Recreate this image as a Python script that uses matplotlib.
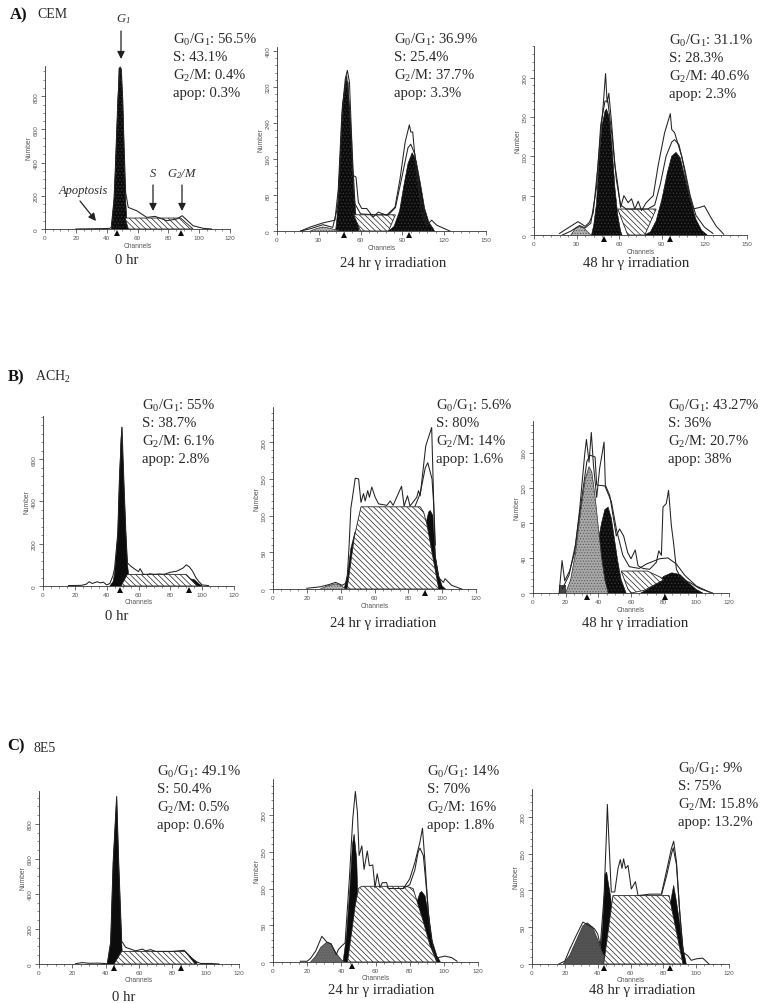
import matplotlib
matplotlib.use("Agg")
import matplotlib.pyplot as plt

W = 780
H = 1004

plt.rcParams['font.family'] = ['Liberation Serif', 'DejaVu Serif']
plt.rcParams['mathtext.fontset'] = 'custom'
plt.rcParams['mathtext.rm'] = 'Liberation Serif'
plt.rcParams['mathtext.it'] = 'Liberation Serif:italic'
plt.rcParams['mathtext.default'] = 'regular'
plt.rcParams['hatch.linewidth'] = 0.5

# each curve is kept as channel list + count list
# A) CEM 0 hr
a0_raw_x = [20, 40, 42, 43, 44.8, 45.5, 46.5, 47.3, 48.7, 49.5, 50.4, 51, 52.3, 54, 59.5, 66, 71.4, 79, 85.4, 89, 96, 102.7, 108]
a0_raw_y = [0, 3, 4, 10, 180, 330, 580, 780, 976, 960, 780, 580, 220, 130, 110, 70, 76, 50, 60, 80, 20, 4, 0]
a0_g1_x = [43, 44.8, 45.5, 46.5, 47.3, 48, 49.3, 50.4, 51, 51.7, 52.3, 53, 54]
a0_g1_y = [0, 180, 330, 580, 780, 970, 970, 780, 580, 350, 180, 70, 0]
a0_s_x = [52, 88, 96, 54]
a0_s_y = [66, 66, 0, 0]

# A) CEM 24 hr
a1_raw_x = [17, 24, 33, 41.6, 44, 46.5, 49, 50.5, 52, 53.6, 54.3, 56.7, 58.4, 60.8, 64.4, 69, 72.7, 78.7, 84.7, 88.3, 92, 95, 96, 97.4, 100, 103.8, 107.4, 111, 114.6, 124]
a1_raw_y = [0, 9, 18, 24, 94, 257, 338, 357, 331, 205, 124, 120, 64, 50, 50, 31, 42, 35, 53, 116, 198, 236, 220, 220, 131, 42, 13, 24, 13, 0]
a1_fit_x = [17, 24, 33, 40, 44, 47, 50, 53, 56, 60, 70, 80, 85, 90, 94, 96, 99, 103, 107, 112]
a1_fit_y = [0, 5, 14, 8, 60, 280, 345, 230, 60, 38, 36, 36, 52, 125, 185, 193, 170, 80, 25, 5]
a1_g1_x = [42, 43, 45, 47.6, 49.5, 51, 53, 55, 56.7, 59]
a1_g1_y = [0, 27, 146, 294, 335, 331, 220, 94, 35, 0]
a1_g2_x = [80, 84, 88, 91, 94, 97, 100, 103, 106, 109, 113]
a1_g2_y = [0, 10, 45, 100, 150, 174, 155, 105, 50, 20, 0]
a1_s_x = [55, 85, 80, 60]
a1_s_y = [36, 36, 0, 0]
a1_ap_x = [24, 28, 33, 38, 45]
a1_ap_y = [0, 5, 9, 6, 0]

# A) CEM 48 hr
a2_raw_x = [18, 24, 31, 36, 39, 41.7, 45, 48.7, 50.4, 51.5, 52.7, 54.6, 57, 58.6, 61, 63.3, 66.3, 68.7, 71, 73.4, 75.7, 79, 84, 87.4, 92, 96, 97, 99, 104, 108.5, 112, 116.7, 120, 124, 128.4, 133.6]
a2_raw_y = [2, 9, 17, 11, 16, 28, 88, 164, 205, 168, 180, 143, 88, 69, 35, 50, 41, 46, 33, 43, 31, 41, 50, 88, 130, 154, 134, 130, 100, 58, 33, 35, 37, 24, 11, 1]
a2_fit_x = [20, 26, 32, 36, 40, 44, 47, 50, 52, 55, 58, 61, 65, 80, 85, 89, 93, 97, 99, 102, 106, 110, 114, 120, 126]
a2_fit_y = [0, 5, 12, 9, 15, 60, 140, 170, 170, 125, 70, 38, 33, 33, 38, 65, 100, 118, 121, 115, 85, 50, 25, 10, 2]
a2_g1_x = [40.5, 42, 44, 46, 48, 50, 51, 53, 55, 57, 59, 61, 62]
a2_g1_y = [0, 12, 40, 100, 140, 157, 160, 150, 110, 60, 25, 5, 0]
a2_g2_x = [78, 82, 86, 90, 94, 97, 100, 103, 106, 110, 114, 118, 122]
a2_g2_y = [0, 4, 18, 45, 80, 100, 105, 98, 75, 45, 20, 6, 0]
a2_s_x = [59, 86, 78, 66]
a2_s_y = [33, 33, 0, 0]
a2_ap_x = [26, 29, 32, 35, 40]
a2_ap_y = [0, 8, 11, 9, 0]

# B) ACH2 0 hr
b0_raw_x = [16, 24, 27, 29, 31, 34, 36, 38, 40, 42, 44, 45, 47, 48, 49.6, 51, 52, 53, 55, 58, 60, 61, 63, 66, 67, 70, 73, 76, 80, 84, 88, 90, 92, 94, 96, 98, 100, 104]
b0_raw_y = [2, 3, 8, 20, 12, 20, 15, 18, 5, 12, 50, 85, 250, 500, 751, 450, 260, 110, 95, 78, 68, 82, 55, 55, 58, 55, 57, 55, 65, 70, 85, 100, 90, 70, 40, 20, 5, 2]
b0_g1_x = [42, 44, 45, 47, 48, 49, 49.6, 50, 51, 52, 53, 54, 55]
b0_g1_y = [0, 20, 60, 250, 500, 700, 751, 650, 450, 260, 110, 40, 0]
b0_g2_x = [88, 92, 95, 98, 100]
b0_g2_y = [0, 35, 30, 10, 0]
b0_s_x = [49, 53, 90, 97]
b0_s_y = [0, 55, 55, 0]

# B) ACH2 24 hr
b1_raw_x = [20, 28, 33, 37, 41, 43, 44, 45, 46, 47, 48.6, 50.6, 52, 53.5, 54.5, 56, 57, 58.4, 60.4, 62.4, 67.3, 69.3, 71, 76, 77.5, 79.5, 81, 85, 86, 87, 90.3, 93.8, 95, 95.8, 97.8, 100.7, 101.7, 105.6, 111.5]
b1_raw_y = [1, 3, 6, 9, 5, 8, 20, 60, 110, 125, 151, 150, 118, 130, 120, 134, 125, 139, 125, 116, 114, 120, 114, 140, 113, 127, 113, 125, 134, 127, 195, 220, 118, 45, 16, 9, 14, 5, 0]
b1_fit_x = [84, 87, 90, 91.5, 94, 95, 96]
b1_fit_y = [113, 130, 165, 172, 150, 115, 60]
b1_g1_x = [42, 44, 46, 48.5, 50, 50]
b1_g1_y = [0, 18, 55, 78, 60, 0]
b1_g2_x = [88, 90, 92, 93, 94.5, 95, 96, 98, 100, 102]
b1_g2_y = [0, 85, 105, 107, 100, 80, 45, 18, 4, 0]
b1_s_x = [43.7, 45, 48, 52, 87, 89, 91, 94, 98]
b1_s_y = [0, 20, 70, 112, 112, 105, 88, 50, 0]
b1_ap_x = [28, 32, 37, 40, 43]
b1_ap_y = [0, 4, 7, 5, 0]

# B) ACH2 48 hr
b2_raw_x = [16, 17.8, 19.4, 22.4, 25.5, 28.6, 31.6, 32.7, 34.3, 35.7, 37, 39, 40.8, 43.5, 44.3, 47, 49, 51, 53, 55.5, 58, 60, 62.6, 64.3, 67.3, 71.4, 75.5, 77, 78.6, 79.6, 81.6, 83, 84.7, 86, 87.8, 90.8, 96, 102, 110]
b2_raw_y = [0, 37, 14, 25, 46, 96, 157, 175, 149, 183, 146, 109, 142, 172, 123, 111, 88, 65, 73, 65, 46, 39, 49, 31, 28, 27, 35, 48, 43, 98, 102, 117, 77, 58, 27, 16, 12, 5, 0]
b2_fit_x = [18, 22, 26, 30, 33, 35, 38, 39, 44, 48, 51, 55, 59, 65, 69.4, 77.5, 82.6, 87.8, 93, 100, 108]
b2_fit_y = [5, 20, 55, 110, 150, 157, 155, 123, 122, 104, 73, 43, 30, 28, 33, 39, 40, 33, 20, 8, 1]
b2_g1_x = [40, 40, 42, 44, 46, 48, 50, 52, 54, 57]
b2_g1_y = [0, 60, 80, 95, 98, 85, 60, 35, 15, 0]
b2_g2_x = [66, 70, 75, 80, 85, 90, 95, 100, 104]
b2_g2_y = [0, 4, 10, 19, 23, 21, 12, 4, 0]
b2_s_x = [54, 70, 78, 80, 68, 60, 58]
b2_s_y = [25, 25, 18, 15, 3, 0, 5]
b2_ap_x = [20, 23, 26, 29, 32, 34.3, 36, 38, 40, 42, 44, 46]
b2_ap_y = [0, 15, 45, 90, 130, 144, 138, 110, 75, 40, 15, 0]
b2_debris_x = [16, 16, 20, 20]
b2_debris_y = [0, 9, 9, 0]

# C) 8E5 0 hr
c0_raw_x = [22, 26, 30, 35, 41, 43, 44.5, 46.6, 47.8, 49.6, 50, 52, 55, 58, 60, 62, 64, 67, 70, 80, 87, 89, 92, 95, 97, 103, 108]
c0_raw_y = [2, 8, 4, 5, 2, 124, 580, 956, 580, 124, 125, 95, 85, 75, 80, 85, 75, 82, 72, 72, 78, 60, 30, 10, 3, 3, 0]
c0_g1_x = [41, 43, 44.5, 46.6, 47.8, 49.6, 50, 49]
c0_g1_y = [0, 124, 580, 956, 580, 124, 60, 0]
c0_g2_x = [87, 92, 95, 94, 90]
c0_g2_y = [75, 32, 5, 0, 30]
c0_s_x = [45, 49.6, 87.7, 93.7]
c0_s_y = [0, 72, 72, 0]

# C) 8E5 24 hr
c1_raw_x = [16, 20, 22, 25, 28.6, 31.5, 34, 37, 38.3, 40.3, 42.2, 44.7, 46.7, 48.2, 49.4, 50.4, 52, 53.3, 55.2, 56.4, 58.4, 59.7, 61, 62.6, 64, 66.5, 67.5, 76.3, 80, 83, 86, 87.5, 89, 90.9, 93.8, 95.7, 96.7, 100.6, 104.5, 107.8]
c1_raw_y = [1, 1, 5, 15, 35, 27, 25, 10, 17, 22, 26, 113, 195, 232, 204, 145, 158, 126, 151, 131, 132, 101, 120, 101, 108, 108, 100, 100, 113, 135, 163, 182, 135, 67, 17, 1, 6, 8, 6, 1]
c1_fit_x = [76, 80, 83, 85, 86, 88, 90, 92]
c1_fit_y = [100, 105, 125, 150, 155, 145, 95, 40]
c1_g1_x = [41, 43, 45, 46.5, 47.5, 49, 50, 50]
c1_g1_y = [0, 35, 100, 160, 174, 140, 60, 0]
c1_g2_x = [82, 84, 86, 87, 89, 91, 93, 96, 98]
c1_g2_y = [0, 80, 94, 96, 90, 65, 30, 8, 0]
c1_s_x = [43.6, 46, 48, 50, 52, 78, 82, 84, 88, 92, 96]
c1_s_y = [0, 40, 75, 100, 103, 103, 100, 85, 55, 22, 0]
c1_ap_x = [22, 25, 28, 31.5, 34, 37, 40, 42]
c1_ap_y = [0, 8, 20, 27, 24, 12, 3, 0]

# C) 8E5 48 hr
c2_raw_x = [16.4, 20, 23, 27, 31, 35, 38, 40, 41.6, 43.9, 45.3, 45.9, 46.9, 48.3, 50.4, 52.4, 53.8, 54.8, 55.8, 57, 58.5, 60.5, 63, 64.6, 71.7, 78.8, 81.8, 84.9, 86.3, 88, 90, 92, 95, 97, 100, 104, 107.8]
c2_raw_y = [0, 4, 20, 39, 57, 52, 48, 41, 25, 93, 175, 217, 166, 98, 98, 130, 142, 130, 143, 130, 134, 102, 112, 93, 95, 95, 125, 157, 167, 139, 70, 16, 11, 5, 7, 8, 0]
c2_fit_x = [79, 82, 85, 86, 88, 90, 92]
c2_fit_y = [95, 120, 150, 158, 135, 70, 20]
c2_g1_x = [41, 43, 44.5, 45.5, 46.5, 48, 49, 49]
c2_g1_y = [0, 50, 122, 125, 110, 90, 60, 0]
c2_g2_x = [83, 84.5, 86.3, 88, 90, 92, 94]
c2_g2_y = [0, 85, 107, 85, 55, 22, 0]
c2_s_x = [43.7, 49.3, 83.5, 92]
c2_s_y = [0, 93, 93, 0]
c2_ap_x = [19, 23, 27, 31, 33.7, 37, 40, 43, 46, 49]
c2_ap_y = [0, 12, 32, 52, 56, 50, 33, 15, 4, 0]

# tick labels
ticks_120 = [0, 20, 40, 60, 80, 100, 120]
ticks_150 = [0, 30, 60, 90, 120, 150]
y_800 = [0, 200, 400, 600, 800]
y_600 = [0, 200, 400, 600]
y_400 = [0, 80, 160, 240, 320, 400]
y_200 = [0, 50, 100, 150, 200]
y_160 = [0, 40, 80, 120, 160]

cell_lines = ["CEM", "ACH$_2$", "8E5"]
letters = ["A)", "B)", "C)"]
stats_a0 = ["56.5%", "43.1%", "0.4%", "0.3%"]
stats_a1 = ["36.9%", "25.4%", "37.7%", "3.3%"]
stats_a2 = ["31.1%", "28.3%", "40.6%", "2.3%"]
stats_b0 = ["55%", "38.7%", "6.1%", "2.8%"]
stats_b1 = ["5.6%", "80%", "14%", "1.6%"]
stats_b2 = ["43.27%", "36%", "20.7%", "38%"]
stats_c0 = ["49.1%", "50.4%", "0.5%", "0.6%"]
stats_c1 = ["14%", "70%", "16%", "1.8%"]
stats_c2 = ["9%", "75%", "15.8%", "13.2%"]

fig = plt.figure(figsize=(W / 100, H / 100), dpi=100)


def fx(x):
    return x / W


def fy(y):
    return 1 - y / H


def put(x, y, s, size=10.6, **kw):
    kw.setdefault('color', '#2a2a2a')
    kw.setdefault('va', 'center')
    fig.text(fx(x), fy(y), s, fontsize=size, **kw)


def arrow(x1, y1, x2, y2):
    fig.add_artist(matplotlib.patches.FancyArrowPatch(
        (fx(x1), fy(y1)), (fx(x2), fy(y2)), transform=fig.transFigure,
        arrowstyle='-|>', mutation_scale=11, lw=0.9, color='#222222', shrinkA=0, shrinkB=0))


def panel(box, xmax, ymax, xticks, yticks, xminor, yminor, raw, s, g1=None, g2=None, fit=None,
          ap=None, ap_color='#b0b0b0', tri=(), speck=False):
    # box is left, right, bottom, top of the axes in image pixels
    left, right, bottom, top = box
    ax = fig.add_axes([fx(left), fy(bottom), (right - left) / W, (bottom - top) / H])
    ax.patch.set_alpha(0)
    ax.set_xlim(0, xmax)
    ax.set_ylim(0, ymax)
    for peak in (g1, g2):
        if peak:
            ax.fill(peak[0], peak[1], facecolor='#0c0c0c', edgecolor='#0c0c0c', lw=0.4, zorder=2)
            if speck:
                ax.fill(peak[0], peak[1], facecolor='none', edgecolor='#383838', lw=0, hatch='.....', zorder=2.5)
    if ap:
        ax.fill(ap[0], ap[1], facecolor=ap_color, edgecolor='#5a5a5a', lw=0, hatch='......', zorder=3)
        ax.plot(ap[0], ap[1], color='#303030', lw=0.5, zorder=3.5)
    ax.fill(s[0], s[1], facecolor='white', edgecolor='#222222', lw=0.6, hatch='\\\\\\\\\\\\', zorder=4)
    if fit:
        ax.plot(fit[0], fit[1], color='#222222', lw=0.75, zorder=5)
    ax.plot(raw[0], raw[1], color='#222222', lw=0.75, zorder=6, clip_on=False)
    if tri:
        ax.plot(tri, [-ymax * 0.022] * len(tri), '^', color='#0c0c0c', ms=4.6, mew=0, clip_on=False, zorder=7)

    for side in ('top', 'right'):
        ax.spines[side].set_visible(False)
    for side in ('left', 'bottom'):
        ax.spines[side].set_linewidth(0.6)
        ax.spines[side].set_color('#333333')
    ax.set_xticks(xticks)
    ax.set_yticks(yticks)
    ax.set_xticks(xminor, minor=True)
    ax.set_yticks(yminor, minor=True)
    ax.tick_params(axis='both', which='major', direction='out', length=2.6, width=0.5, color='#333333',
                   labelsize=4.6, labelcolor='#555555', pad=2)
    ax.tick_params(axis='both', which='minor', direction='out', length=1.6, width=0.4, color='#333333')
    for lab in ax.get_yticklabels():
        lab.set_rotation(90)
        lab.set_va('center')
        lab.set_family(['Liberation Sans'])
    for lab in ax.get_xticklabels():
        lab.set_family(['Liberation Sans'])
    ax.set_xlabel("Channels", fontsize=4.8, color='#555555', family=['Liberation Sans'], labelpad=0.8)
    ax.set_ylabel("Number", fontsize=4.8, color='#555555', family=['Liberation Sans'], labelpad=1)
    return ax


def stats(x, y, vals):
    names = ["G$_0$/G$_1$: ", "S: ", "G$_2$/M: ", "apop: "]
    for i in range(4):
        put(x, y + i * 17.8, names[i] + vals[i])


def minors(xmax, step):
    out = []
    v = 0
    while v <= xmax:
        out.append(v)
        v += step
    return out


panel((45, 230, 230, 67), 120, 982, ticks_120, y_800, minors(120, 5), minors(982, 50),
      (a0_raw_x, a0_raw_y), (a0_s_x, a0_s_y), g1=(a0_g1_x, a0_g1_y), tri=(47, 88), speck=True)
panel((277, 486, 232, 48), 150, 409, ticks_150, y_400, minors(150, 6), minors(409, 16),
      (a1_raw_x, a1_raw_y), (a1_s_x, a1_s_y), (a1_g1_x, a1_g1_y), (a1_g2_x, a1_g2_y),
      (a1_fit_x, a1_fit_y), (a1_ap_x, a1_ap_y), tri=(48.3, 94.5), speck=True)
panel((534, 747, 236, 47), 150, 240, ticks_150, y_200, minors(150, 6), minors(240, 10),
      (a2_raw_x, a2_raw_y), (a2_s_x, a2_s_y), (a2_g1_x, a2_g1_y), (a2_g2_x, a2_g2_y),
      (a2_fit_x, a2_fit_y), (a2_ap_x, a2_ap_y), tri=(49.5, 95.6), speck=True)
panel((43, 234, 587, 417), 120, 804, ticks_120, y_600, minors(120, 5), minors(804, 40),
      (b0_raw_x, b0_raw_y), (b0_s_x, b0_s_y), (b0_g1_x, b0_g1_y), (b0_g2_x, b0_g2_y), tri=(48.6, 92))
panel((273, 476, 590, 408), 120, 248, ticks_120, y_200, minors(120, 5), minors(248, 10),
      (b1_raw_x, b1_raw_y), (b1_s_x, b1_s_y), (b1_g1_x, b1_g1_y), (b1_g2_x, b1_g2_y),
      (b1_fit_x, b1_fit_y), (b1_ap_x, b1_ap_y), tri=(90,))
ax_b2 = panel((533, 729, 594, 422), 120, 196, ticks_120, y_160, minors(120, 5), minors(196, 8),
              (b2_raw_x, b2_raw_y), (b2_s_x, b2_s_y), (b2_g1_x, b2_g1_y), (b2_g2_x, b2_g2_y),
              (b2_fit_x, b2_fit_y), (b2_ap_x, b2_ap_y), ap_color='#a8a8a8', tri=(33.3, 81), speck=True)
ax_b2.fill(b2_debris_x, b2_debris_y, facecolor='#444444', zorder=3)
panel((39, 239, 965, 792), 120, 988, ticks_120, y_800, minors(120, 5), minors(988, 50),
      (c0_raw_x, c0_raw_y), (c0_s_x, c0_s_y), (c0_g1_x, c0_g1_y), (c0_g2_x, c0_g2_y), tri=(45, 85))
panel((273, 478, 963, 780), 120, 249, ticks_120, y_200, minors(120, 5), minors(249, 10),
      (c1_raw_x, c1_raw_y), (c1_s_x, c1_s_y), (c1_g1_x, c1_g1_y), (c1_g2_x, c1_g2_y),
      (c1_fit_x, c1_fit_y), (c1_ap_x, c1_ap_y), ap_color='#6a6a6a', tri=(46.5,))
panel((532, 729, 965, 790), 120, 238, ticks_120, y_200, minors(120, 5), minors(238, 10),
      (c2_raw_x, c2_raw_y), (c2_s_x, c2_s_y), (c2_g1_x, c2_g1_y), (c2_g2_x, c2_g2_y),
      (c2_fit_x, c2_fit_y), (c2_ap_x, c2_ap_y), ap_color='#505050', tri=(44, 84))

stats(173, 40, stats_a0)
stats(394, 40, stats_a1)
stats(669, 41, stats_a2)
stats(142, 406, stats_b0)
stats(436, 406, stats_b1)
stats(668, 406, stats_b2)
stats(157, 772, stats_c0)
stats(427, 772, stats_c1)
stats(678, 769, stats_c2)

# panel letters and cell lines
put(10, 15, letters[0], size=12, fontweight='bold', color='#111111')
put(37, 15, cell_lines[0], size=10)
put(8, 377, letters[1], size=12, fontweight='bold', color='#111111')
put(35, 377, cell_lines[1], size=10)
put(7, 746, letters[2], size=12, fontweight='bold', color='#111111')
put(33, 749, cell_lines[2], size=10)

# captions under the panels
caption = "24 hr \u03b3 irradiation"
caption2 = "48 hr \u03b3 irradiation"
put(127, 260, "0 hr", ha='center')
put(393, 263, caption, ha='center')
put(636, 263, caption2, ha='center')
put(117, 616, "0 hr", ha='center')
put(383, 623, caption, ha='center')
put(635, 623, caption2, ha='center')
put(124, 998, "0 hr", ha='center')
put(381, 991, caption, ha='center')
put(642, 991, caption2, ha='center')

# labels with arrows on the first panel
put(123, 19, "G$_1$", size=9, ha='center', style='italic')
arrow(121, 32, 121, 60)
put(83, 191, "Apoptosis", size=9, ha='center', style='italic')
arrow(80, 202, 96, 222)
put(153, 174, "S", size=9, ha='center', style='italic')
arrow(153, 186, 153, 212)
put(182, 174, "G$_2$/M", size=9, ha='center', style='italic')
arrow(182, 186, 182, 212)

fig.savefig("out.png", dpi=100)
